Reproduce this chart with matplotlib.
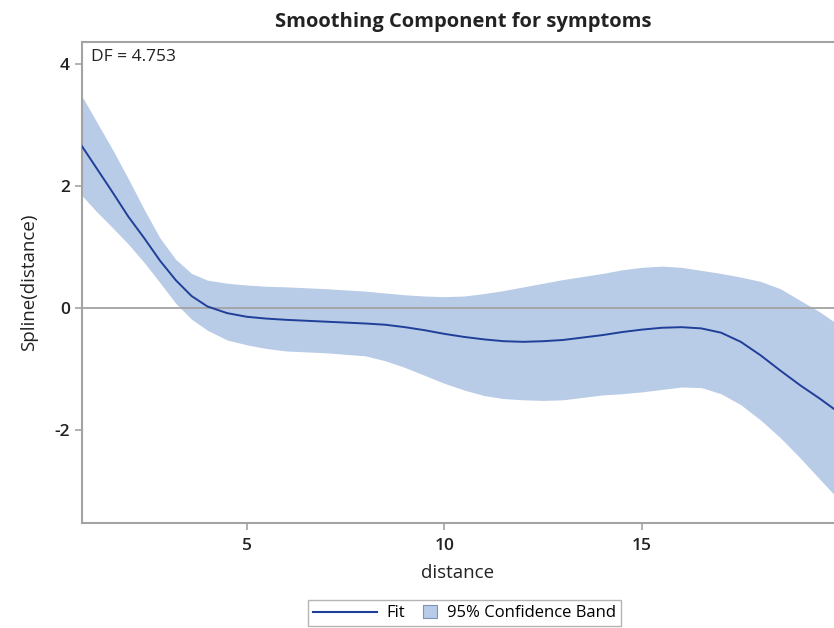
import matplotlib
matplotlib.use("Agg")
import matplotlib.pyplot as plt
from matplotlib.lines import Line2D
from matplotlib.patches import Patch, Rectangle
from matplotlib.legend_handler import HandlerPatch

plt.rcParams['font.family'] = ['Open Sans', 'DejaVu Sans']
plt.rcParams['axes.unicode_minus'] = False

distance = [0.82, 1.2, 1.6, 2.0, 2.4, 2.8, 3.2, 3.6, 4.0, 4.5, 5.0, 5.5, 6.0, 7.0, 8.0,
            8.5, 9.0, 9.5, 10.0, 10.5, 11.0, 11.5, 12.0, 12.5, 13.0, 13.5, 14.0, 14.5,
            15.0, 15.5, 16.0, 16.5, 17.0, 17.5, 18.0, 18.5, 19.0, 19.5, 19.86]
fit = [2.66, 2.29, 1.90, 1.50, 1.15, 0.78, 0.46, 0.20, 0.03, -0.08, -0.14, -0.17, -0.19,
       -0.22, -0.25, -0.27, -0.31, -0.36, -0.42, -0.47, -0.51, -0.54, -0.55, -0.54, -0.52,
       -0.48, -0.44, -0.39, -0.35, -0.32, -0.31, -0.33, -0.40, -0.55, -0.77, -1.02, -1.26,
       -1.48, -1.65]
upper = [3.48, 3.05, 2.60, 2.12, 1.62, 1.15, 0.80, 0.57, 0.46, 0.41, 0.38, 0.36, 0.35,
         0.32, 0.28, 0.25, 0.22, 0.20, 0.19, 0.20, 0.24, 0.29, 0.35, 0.41, 0.47, 0.52,
         0.57, 0.63, 0.67, 0.69, 0.67, 0.62, 0.57, 0.51, 0.44, 0.32, 0.13, -0.06, -0.22]
lower = [1.85, 1.58, 1.32, 1.05, 0.75, 0.42, 0.08, -0.18, -0.36, -0.52, -0.60, -0.66,
         -0.70, -0.73, -0.78, -0.86, -0.97, -1.10, -1.23, -1.34, -1.43, -1.48, -1.50,
         -1.51, -1.50, -1.46, -1.42, -1.40, -1.37, -1.33, -1.29, -1.30, -1.40, -1.58,
         -1.83, -2.12, -2.45, -2.80, -3.05]
xticks = [5, 10, 15]
yticks = [-2, 0, 2, 4]
title = "Smoothing Component for symptoms"
df_text = "DF = 4.753"

band_color = '#b8cbe7'
line_color = '#1f3f98'
gray = '#a3a3a3'
text_color = '#222222'

fig = plt.figure(figsize=(8.34, 6.28), dpi=100)
ax = fig.add_axes([0.098, 0.167, 0.902, 0.766])

ax.fill_between(distance, lower, upper, color=band_color, lw=0, zorder=1)
ax.axhline(0, color=gray, lw=1.3, zorder=2)
ax.plot(distance, fit, color=line_color, lw=1.4, zorder=3)

ax.set_xlim(0.82, 19.86)
ax.set_ylim(-3.52, 4.36)
ax.set_xticks(xticks)
ax.set_yticks(yticks)
ax.tick_params(axis='both', colors=gray, length=5, width=1.2, labelsize=12.5,
               labelcolor=text_color)
ax.tick_params(axis='x', pad=6)
for lbl in ax.get_xticklabels() + ax.get_yticklabels():
    lbl.set_fontweight('semibold')
for s in ['left', 'bottom', 'top']:
    ax.spines[s].set_color(gray)
    ax.spines[s].set_linewidth(1.5)
ax.spines['right'].set_visible(False)

ax.set_xlabel("distance", fontsize=13.5, color=text_color, labelpad=7)
ax.set_ylabel("Spline(distance)", fontsize=13.5, color=text_color, labelpad=12)
fig.text(0.555, 0.965, title, ha='center', va='center', fontsize=14.5,
         fontweight='bold', color=text_color)
ax.text(0.012, 0.985, df_text, transform=ax.transAxes, ha='left', va='top',
        fontsize=12.5, color=text_color)


def square_right(legend, orig_handle, xdescent, ydescent, width, height, fontsize):
    s = height * 1.15
    return Rectangle((width - s - xdescent, -ydescent + (height - s) / 2), s, s)


handles = [Line2D([0], [0], color=line_color, lw=1.5),
           Patch(facecolor=band_color, edgecolor='#7f93b5', lw=0.8)]
leg = fig.legend(handles, ["Fit", "95% Confidence Band"], loc='lower center',
                 bbox_to_anchor=(0.557, 0.0), ncol=2, frameon=True, fancybox=False,
                 fontsize=12, handlelength=3.8, columnspacing=-1.9, handletextpad=0.6,
                 borderpad=0.3, borderaxespad=0.1,
                 handler_map={Patch: HandlerPatch(patch_func=square_right)})
leg.get_frame().set_edgecolor(gray)
leg.get_frame().set_linewidth(1.0)

fig.savefig("out.png", dpi=100)
